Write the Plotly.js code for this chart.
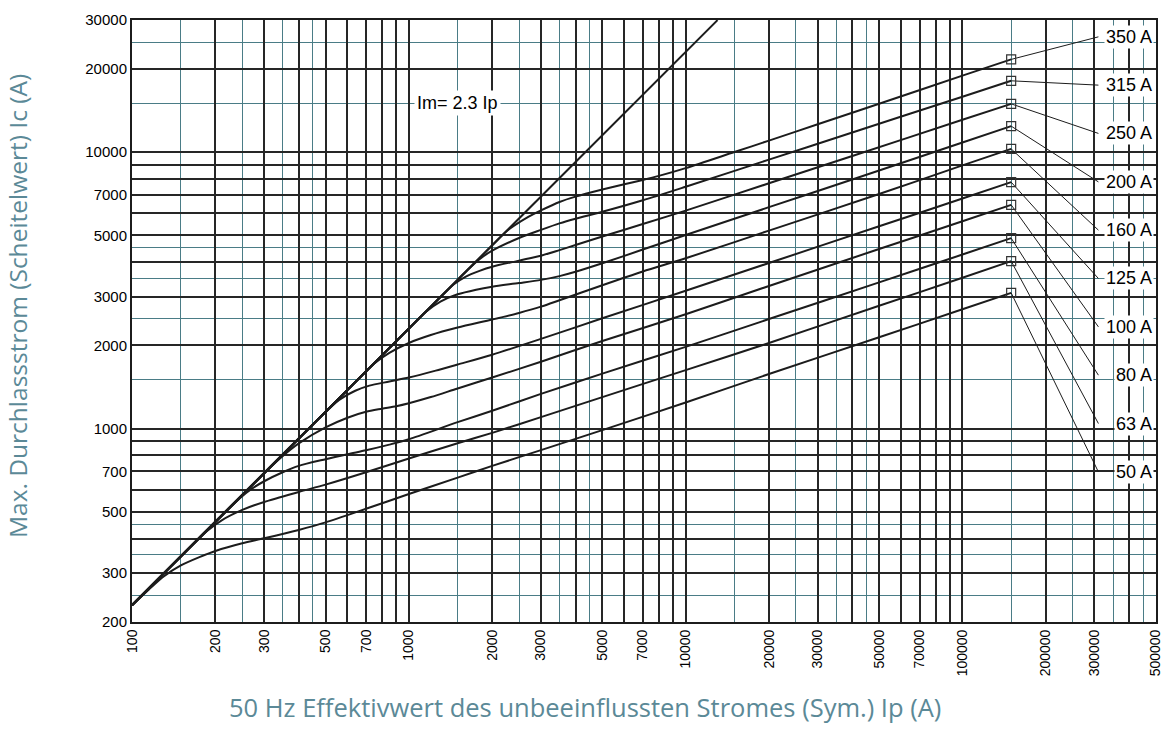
<!DOCTYPE html>
<html>
<head>
<meta charset="utf-8">
<script src="https://cdn.plot.ly/plotly-3.0.1.min.js"></script>
<style>
  html, body { margin: 0; padding: 0; background: #fff; }
  #chart { width: 1167px; height: 742px; }
</style>
</head>
<body>
<div id="chart"></div>
<script>
// ---------- data ----------
const fuseNames = ['350 A', '315 A', '250 A', '200 A', '160 A', '125 A', '100 A', '80 A', '63 A', '50 A'];

// Im = 2.3 Ip limit line
const imIp = [100, 13040];
const imIc = [230, 30000];

const ip350 = [100, 2000, 2200, 2300, 2400, 2700, 3000, 3500, 4000, 5000, 6000, 7000, 8000, 10000, 15000, 20000, 30000, 50000, 100000, 150000];
const ic350 = [230, 4600, 5060, 5260, 5420, 5830, 6150, 6600, 6900, 7320, 7650, 7930, 8200, 8750, 10000, 11000, 12600, 14950, 18900, 21630];

const ip315 = [100, 1500, 1650, 1800, 2000, 2500, 3000, 3500, 4000, 5000, 7000, 10000, 20000, 40000, 100000, 150000];
const ic315 = [230, 3450, 3795, 4100, 4400, 4890, 5230, 5520, 5740, 6080, 6690, 7490, 9390, 11770, 15850, 18100];

const ip250 = [100, 1300, 1450, 1600, 1800, 2000, 2500, 3000, 3500, 4000, 5000, 7000, 10000, 20000, 40000, 100000, 150000];
const ic250 = [230, 2990, 3320, 3540, 3720, 3850, 4050, 4220, 4420, 4610, 4950, 5490, 6140, 7710, 9680, 13080, 14940];

const ip200 = [100, 1000, 1150, 1300, 1500, 1750, 2000, 2500, 3000, 3500, 4000, 5000, 7000, 10000, 20000, 40000, 100000, 150000];
const ic200 = [230, 2300, 2640, 2880, 3060, 3180, 3260, 3360, 3450, 3560, 3690, 3960, 4440, 5010, 6320, 7960, 10830, 12410];

const ip160 = [100, 600, 750, 850, 1000, 1200, 1500, 2000, 2500, 3000, 3500, 5000, 7000, 10000, 20000, 50000, 100000, 150000];
const ic160 = [230, 1380, 1720, 1880, 2040, 2180, 2320, 2480, 2620, 2760, 2910, 3300, 3700, 4130, 5200, 7050, 8950, 10270];

const ip125 = [100, 470, 560, 640, 720, 850, 1000, 1250, 1500, 2000, 3000, 5000, 10000, 20000, 50000, 100000, 150000];
const ic125 = [230, 1081, 1270, 1370, 1430, 1480, 1530, 1620, 1705, 1850, 2110, 2505, 3150, 3970, 5390, 6790, 7784];

const ip100 = [100, 290, 342, 400, 500, 600, 700, 800, 900, 1000, 1200, 1500, 2000, 3000, 5000, 10000, 20000, 50000, 100000, 150000];
const ic100 = [230, 667, 780, 884, 1010, 1095, 1150, 1180, 1205, 1235, 1300, 1397, 1530, 1745, 2074, 2590, 3280, 4460, 5620, 6444];

const ip80 = [100, 210, 245, 270, 300, 350, 400, 500, 600, 700, 850, 1000, 1500, 2000, 3000, 5000, 10000, 20000, 50000, 100000, 150000];
const ic80 = [230, 483, 560, 605, 645, 695, 733, 775, 808, 835, 875, 915, 1055, 1160, 1335, 1580, 1975, 2490, 3380, 4260, 4883];

const ip63 = [100, 160, 186, 210, 250, 300, 400, 500, 700, 1000, 1500, 2000, 3000, 5000, 10000, 20000, 50000, 100000, 150000];
const ic63 = [230, 368, 425, 465, 508, 543, 590, 627, 695, 780, 885, 965, 1100, 1300, 1627, 2040, 2780, 3510, 4032];

const ip50 = [100, 115, 130, 150, 175, 200, 250, 300, 400, 500, 700, 1000, 1500, 2000, 3000, 5000, 10000, 20000, 50000, 100000, 150000];
const ic50 = [230, 262, 292, 320, 343, 361, 385, 401, 430, 458, 513, 580, 665, 733, 836, 987, 1243, 1575, 2140, 2700, 3096];

const fuseIp = [ip350, ip315, ip250, ip200, ip160, ip125, ip100, ip80, ip63, ip50];
const fuseIc = [ic350, ic315, ic250, ic200, ic160, ic125, ic100, ic80, ic63, ic50];

// end markers (square) and label anchor positions
const endIp = 150000;
const endIc = [21630, 18100, 14940, 12410, 10270, 7784, 6444, 4883, 4032, 3096];
const labelIp = 310000;
const labelIc = [26100, 17460, 11680, 7800, 5220, 3490, 2333, 1560, 1043, 697];

// axis ticks / grid
const xTickVals = [100,200,300,400,500,600,700,800,900,
                   1000,2000,3000,4000,5000,6000,7000,8000,9000,
                   10000,20000,30000,40000,50000,60000,70000,80000,90000,
                   100000,200000,300000,400000,500000];
const xTickText = ['100','200','300','','500','','700','','',
                   '1000','2000','3000','','5000','','7000','','',
                   '10000','20000','30000','','50000','','70000','','',
                   '100000','200000','300000','','500000'];
const xMinorVals = [150,250,350,450,1500,2500,3500,4500,15000,25000,35000,45000,150000,250000,350000,450000];

const yTickVals = [200,300,400,500,600,700,800,900,
                   1000,2000,3000,4000,5000,6000,7000,8000,9000,
                   10000,20000,30000];
const yTickText = ['200','300','','500','','700','','',
                   '1000','2000','3000','','5000','','7000','','',
                   '10000','20000','30000'];
const yMinorVals = [250,350,450,1500,2500,3500,4500,15000,25000];

const xTitle = '50 Hz Effektivwert des unbeeinflussten Stromes (Sym.) Ip (A)';
const yTitle = 'Max. Durchlassstrom (Scheitelwert) Ic (A)';
const imLabel = 'Im= 2.3 Ip';

// ---------- styles ----------
const BLACK = '#1c1c1c';
const GRID = '#262626';
const TEAL = '#4a7c86';
const TITLE_COLOR = '#5b8997';
const FONT = 'Liberation Sans, Arial, sans-serif';
const TITLE_FONT = 'Open Sans, sans-serif';

const traces = [];
traces.push({
  x: imIp, y: imIc, type: 'scatter', mode: 'lines',
  line: {color: BLACK, width: 2}, hoverinfo: 'skip', showlegend: false
});
for (let i = 0; i < fuseNames.length; i++) {
  traces.push({
    x: fuseIp[i], y: fuseIc[i], type: 'scatter', mode: 'lines', name: fuseNames[i],
    line: {color: BLACK, width: 2, shape: 'spline', smoothing: 0.8},
    showlegend: false
  });
}
for (let i = 0; i < fuseNames.length; i++) {
  traces.push({
    x: [endIp, labelIp], y: [endIc[i], labelIc[i]], type: 'scatter', mode: 'lines',
    line: {color: BLACK, width: 1}, hoverinfo: 'skip', showlegend: false
  });
}
traces.push({
  x: endIc.map(() => endIp), y: endIc, type: 'scatter', mode: 'markers',
  marker: {symbol: 'square-open', size: 9, color: '#333', line: {width: 1.2, color: '#333'}},
  hoverinfo: 'skip', showlegend: false
});

const annotations = [{
  x: Math.log10(1500), y: Math.log10(15000), xref: 'x', yref: 'y',
  text: imLabel, showarrow: false, bgcolor: '#ffffff', borderpad: 2,
  font: {family: FONT, size: 18, color: '#000'}
}];
for (let i = 0; i < fuseNames.length; i++) {
  annotations.push({
    x: Math.log10(500000), y: Math.log10(labelIc[i]), xref: 'x', yref: 'y',
    xanchor: 'right', yanchor: 'middle', xshift: -2,
    text: fuseNames[i], showarrow: false, bgcolor: '#ffffff', borderpad: 1,
    font: {family: FONT, size: 18, color: '#000'}
  });
}
// axis titles (placed as in the reference: x title centred on the page)
annotations.push({
  xref: 'paper', yref: 'paper', x: 0.4424, y: -0.1412,
  xanchor: 'center', yanchor: 'middle', showarrow: false,
  text: xTitle, font: {family: TITLE_FONT, size: 25.5, color: TITLE_COLOR}
});
annotations.push({
  xref: 'paper', yref: 'paper', x: -0.1113, y: 0.525,
  xanchor: 'center', yanchor: 'middle', showarrow: false, textangle: -90,
  text: yTitle, font: {family: TITLE_FONT, size: 24.5, color: TITLE_COLOR}
});

const layout = {
  width: 1167, height: 742,
  margin: {l: 132, r: 11, t: 20, b: 120},
  paper_bgcolor: '#ffffff', plot_bgcolor: '#ffffff',
  showlegend: false,
  xaxis: {
    type: 'log',
    range: [Math.log10(99.9), Math.log10(500500)],
    tickmode: 'array', tickvals: xTickVals, ticktext: xTickText,
    tickangle: -90, ticks: '', ticklen: 0,
    tickfont: {family: FONT, size: 14, color: '#000'},
    showgrid: true, gridcolor: GRID, gridwidth: 2,
    minor: {tickmode: 'array', tickvals: xMinorVals, showgrid: true, gridcolor: TEAL, gridwidth: 1, ticks: ''},
    showline: true, linecolor: BLACK, linewidth: 2, mirror: true,
    zeroline: false
  },
  yaxis: {
    type: 'log',
    range: [Math.log10(199.8), Math.log10(30030)],
    tickmode: 'array', tickvals: yTickVals, ticktext: yTickText,
    ticks: '', ticklen: 0,
    tickfont: {family: FONT, size: 15, color: '#000'},
    showgrid: true, gridcolor: GRID, gridwidth: 2,
    minor: {tickmode: 'array', tickvals: yMinorVals, showgrid: true, gridcolor: TEAL, gridwidth: 1, ticks: ''},
    showline: true, linecolor: BLACK, linewidth: 2, mirror: true,
    zeroline: false
  },
  annotations: annotations
};

Plotly.newPlot('chart', traces, layout, {displayModeBar: false, staticPlot: true});
</script>
</body>
</html>
